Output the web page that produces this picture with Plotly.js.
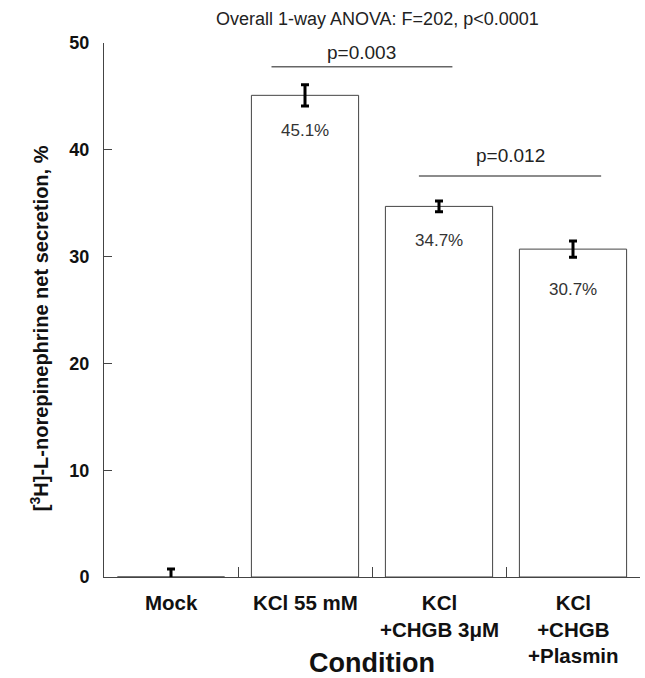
<!DOCTYPE html>
<html>
<head>
<meta charset="utf-8">
<script src="https://cdn.plot.ly/plotly-3.0.1.min.js"></script>
<style>html,body{margin:0;padding:0;background:#fff;}#chart{width:645px;height:678px;}</style>
</head>
<body>
<div id="chart"></div>
<script>
const categories = ["Mock", "KCl 55 mM", "KCl<br>+CHGB 3μM", "KCl<br>+CHGB<br>+Plasmin"];
const values = [0, 45.1, 34.7, 30.7];
const errors = [0.75, 1.0, 0.5, 0.75];
const valueLabels = ["", "45.1%", "34.7%", "30.7%"];
const yTicks = [0, 10, 20, 30, 40, 50];
const comparisons = [
  {text: "p=0.003", x0: 0.75, x1: 2.1, y: 47.78, textY: 49.1},
  {text: "p=0.012", x0: 1.85, x1: 3.21, y: 37.55, textY: 39.5}
];

const trace = {
  type: "bar",
  x: [0, 1, 2, 3],
  y: values,
  width: 0.8,
  marker: {color: "#ffffff", line: {color: "#444444", width: 1}},
  error_y: {type: "data", array: errors, visible: true, color: "#000000", thickness: 3, width: 4},
  hoverinfo: "none"
};

const labelShift = [0, -35, -34, -40];
const annotations = [];
values.forEach((v, i) => {
  if (valueLabels[i]) {
    annotations.push({x: i, y: v, xref: "x", yref: "y", yshift: labelShift[i], text: valueLabels[i], showarrow: false,
      font: {family: "Arial", size: 17, color: "#333333"}});
  }
});
const shapes = [];
comparisons.forEach(c => {
  shapes.push({type: "line", xref: "x", yref: "y", x0: c.x0, x1: c.x1, y0: c.y, y1: c.y,
    line: {color: "#666666", width: 1.5}});
  annotations.push({x: (c.x0 + c.x1) / 2, y: c.textY, xref: "x", yref: "y", text: c.text, showarrow: false,
    font: {family: "Arial", size: 19, color: "#222222"}});
});
categories.forEach((c, i) => {
  annotations.push({x: i, y: 0, xref: "x", yref: "paper", yanchor: "top", yshift: -12, text: c, showarrow: false,
    font: {family: "Arial", size: 20.5, color: "#111111", weight: "bold"}, align: "center"});
});
annotations.push({x: 1.5, y: 0, xref: "x", yref: "paper", yanchor: "middle", yshift: -86, text: "Condition", showarrow: false,
  font: {family: "Arial", size: 27, color: "#111111", weight: "bold"}});
annotations.push({x: 0, y: 0.466, xref: "paper", yref: "paper", xanchor: "center", yanchor: "middle", xshift: -65, textangle: -90,
  text: "[<sup>3</sup>H]-L-norepinephrine net secretion, %", showarrow: false,
  font: {family: "Arial", size: 20, color: "#111111", weight: "bold"}});

const layout = {
  width: 645, height: 678,
  margin: {l: 104, r: 5, t: 43, b: 101},
  paper_bgcolor: "#ffffff", plot_bgcolor: "#ffffff",
  showlegend: false,
  title: {text: "Overall 1-way ANOVA: F=202, p<0.0001", x: 0.585, xanchor: "center", y: 0.973, yanchor: "middle",
    font: {family: "Arial", size: 18, color: "#222222"}},
  xaxis: {
    range: [-0.5, 3.5], showgrid: false, zeroline: false,
    showline: true, linecolor: "#444444", linewidth: 1,
    tickmode: "array", tickvals: [0.5, 1.5, 2.5, 3.5], showticklabels: false,
    ticks: "inside", ticklen: 10, tickcolor: "#444444"
  },
  yaxis: {
    range: [0, 50], showgrid: false, zeroline: false,
    showline: true, linecolor: "#444444", linewidth: 1,
    tickmode: "array", tickvals: yTicks,
    ticks: "inside", ticklen: 8, tickcolor: "#444444",
    ticklabelstandoff: 10,
    tickfont: {family: "Arial", size: 18, color: "#111111", weight: "bold"}
  },
  annotations: annotations,
  shapes: shapes
};

Plotly.newPlot("chart", [trace], layout, {displayModeBar: false, staticPlot: true});
</script>
</body>
</html>
